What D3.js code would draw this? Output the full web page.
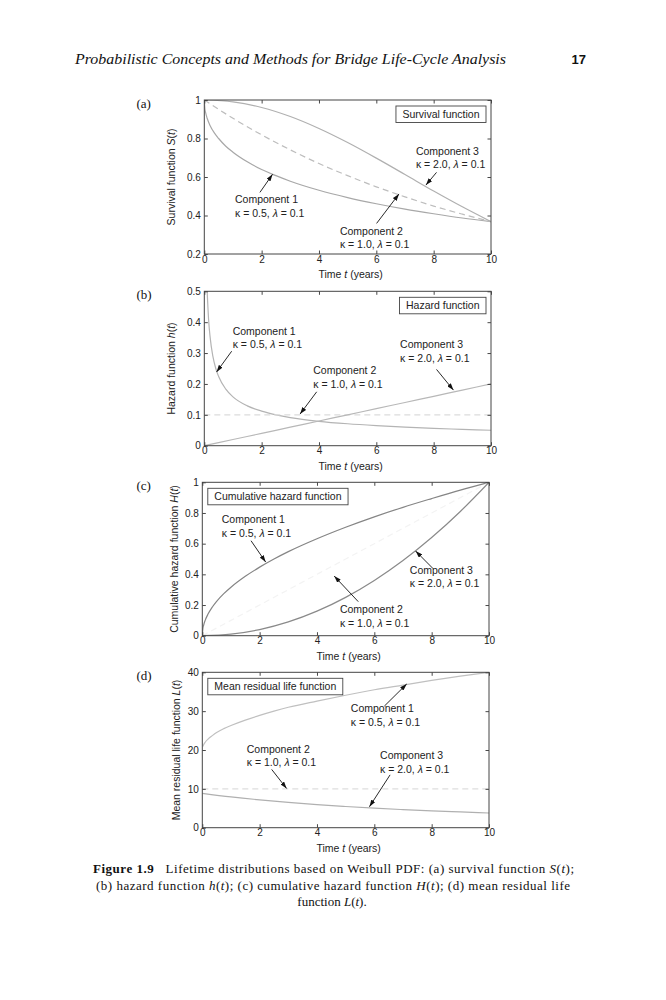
<!DOCTYPE html>
<html><head><meta charset="utf-8">
<script src="https://cdn.jsdelivr.net/npm/d3@7"></script>
<style>body{margin:0;background:#fff}svg{display:block}</style>
</head><body>
<svg id="c" width="666" height="1000"></svg>
<script>
// ---------- data ----------
const timeTicks = [0, 2, 4, 6, 8, 10];
const tFine   = [0, 0.02, 0.05, 0.1, 0.2, 0.35, 0.5, 0.75, 1, 1.5, 2, 2.5, 3, 4, 5, 6, 7, 8, 9, 10];
const tCoarse = [0, 1, 2, 3, 4, 5, 6, 7, 8, 9, 10];
const tHaz1   = [0.1, 0.15, 0.2, 0.3, 0.4, 0.5, 0.75, 1, 1.5, 2, 2.5, 3, 4, 5, 6, 7, 8, 9, 10];
const tLife1  = [0.02, 0.05, 0.1, 0.2, 0.35, 0.5, 0.75, 1, 1.5, 2, 2.5, 3, 4, 5, 6, 7, 8, 9, 10];

const survival1 = [1, 0.956, 0.932, 0.905, 0.868, 0.829, 0.800, 0.760, 0.729, 0.679, 0.639, 0.607, 0.578, 0.531, 0.493, 0.461, 0.433, 0.409, 0.387, 0.368];
const survival2 = [1, 0.905, 0.819, 0.741, 0.670, 0.607, 0.549, 0.497, 0.449, 0.407, 0.368];
const survival3 = [1, 0.990, 0.961, 0.914, 0.852, 0.779, 0.698, 0.613, 0.527, 0.445, 0.368];

const hazard1 = [0.5, 0.408, 0.354, 0.289, 0.25, 0.224, 0.183, 0.158, 0.129, 0.112, 0.1, 0.091, 0.079, 0.071, 0.065, 0.060, 0.056, 0.053, 0.05];
const hazard2 = [0.1, 0.1, 0.1, 0.1, 0.1, 0.1, 0.1, 0.1, 0.1, 0.1, 0.1];
const hazard3 = [0, 0.02, 0.04, 0.06, 0.08, 0.10, 0.12, 0.14, 0.16, 0.18, 0.20];

const cumHazard1 = [0, 0.045, 0.071, 0.1, 0.141, 0.187, 0.224, 0.274, 0.316, 0.387, 0.447, 0.5, 0.548, 0.632, 0.707, 0.775, 0.837, 0.894, 0.949, 1];
const cumHazard2 = [0, 0.1, 0.2, 0.3, 0.4, 0.5, 0.6, 0.7, 0.8, 0.9, 1.0];
const cumHazard3 = [0, 0.01, 0.04, 0.09, 0.16, 0.25, 0.36, 0.49, 0.64, 0.81, 1.0];

const residual1 = [20.9, 21.4, 22.0, 22.8, 23.7, 24.5, 25.5, 26.3, 27.7, 28.9, 30.0, 31.0, 32.6, 34.1, 35.5, 36.7, 37.9, 39.0, 40.0];
const residual2 = [10, 10, 10, 10, 10, 10, 10, 10, 10, 10, 10];
const residual3 = [8.86, 7.94, 7.17, 6.51, 5.94, 5.46, 5.03, 4.66, 4.33, 4.05, 3.79];

const yTicksA = [0.2, 0.4, 0.6, 0.8, 1];
const yTicksB = [0, 0.1, 0.2, 0.3, 0.4, 0.5];
const yTicksC = [0, 0.2, 0.4, 0.6, 0.8, 1];
const yTicksD = [0, 10, 20, 30, 40];

const componentNames = ["Component 1", "Component 2", "Component 3"];
const kappaValues = ["0.5", "1.0", "2.0"];
const lambdaValue = "0.1";
const panelTitles = ["Survival function", "Hazard function", "Cumulative hazard function", "Mean residual life function"];
const panelLetters = ["(a)", "(b)", "(c)", "(d)"];
const yLabelWords = [["Survival function ", "S"], ["Hazard function ", "h"], ["Cumulative hazard function ", "H"], ["Mean residual life function ", "L"]];

// ---------- layout ----------
const SANS = "'Liberation Sans', Arial, Helvetica, sans-serif";
const SERIF = "'Liberation Serif', 'Times New Roman', serif";
const svg = d3.select("#c");
const defs = svg.append("defs");
defs.append("marker").attr("id", "ah").attr("viewBox", "0 0 10 10")
  .attr("refX", 10).attr("refY", 5).attr("markerWidth", 7).attr("markerHeight", 4.6)
  .attr("markerUnits", "userSpaceOnUse").attr("orient", "auto").attr("preserveAspectRatio", "none")
  .append("path").attr("d", "M0,0L10,5L0,10Z").attr("fill", "#111");

const solidA = {stroke: "#a8a8a8"}, dashA = {stroke: "#bdbdbd", dash: "6,4"};
const panels = [
  {box: {l: 204.3, r: 491, t: 100, b: 254}, y: [0.2, 1], ticks: yTicksA, labX: 175, titleRight: true,
   series: [[tFine, survival1, solidA], [tCoarse, survival2, dashA], [tCoarse, survival3, {stroke: "#b0b0b0"}]],
   notes: [[0, 1.07, 0.463, 1.94, 0.52, 2.38, 0.614], [1, 4.73, 0.299, 6.01, 0.359, 6.79, 0.512], [2, 7.38, 0.714, 8.1, 0.624, 7.73, 0.558]]},
  {box: {l: 204.3, r: 491, t: 291.3, b: 445.7}, y: [0, 0.5], ticks: yTicksB, labX: 175, titleRight: true,
   series: [[tHaz1, hazard1, {stroke: "#b4b4b4"}], [tCoarse, hazard2, {stroke: "#dcdcdc", dash: "6,4"}], [tCoarse, hazard3, {stroke: "#b8b8b8"}]],
   notes: [[0, 0.99, 0.358, 0.955, 0.306, 0.43, 0.239], [1, 3.80, 0.231, 3.92, 0.1745, 3.34, 0.1025], [2, 6.83, 0.315, 8.1, 0.247, 8.69, 0.18]]},
  {box: {l: 202.3, r: 489, t: 482.3, b: 635.7}, y: [0, 1], ticks: yTicksC, labX: 178, titleRight: false,
   series: [[tFine, cumHazard1, {stroke: "#858585"}], [tCoarse, cumHazard2, {stroke: "#f3f3f3", dash: "6,4"}], [tCoarse, cumHazard3, {stroke: "#8a8a8a"}]],
   notes: [[0, 0.68, 0.733, 1.70, 0.619, 2.21, 0.48], [1, 4.80, 0.146, 5.44, 0.222, 4.60, 0.389], [2, 7.24, 0.402, 8.04, 0.439, 7.44, 0.552]]},
  {box: {l: 202.3, r: 489, t: 672.3, b: 827.7}, y: [0, 40], ticks: yTicksD, labX: 180, titleRight: false,
   series: [[tLife1, residual1, {stroke: "#c0c0c0"}], [tCoarse, residual2, {stroke: "#dedede", dash: "6,4"}], [tCoarse, residual3, {stroke: "#b0b0b0"}]],
   notes: [[0, 5.18, 29.7, 6.35, 31.3, 7.13, 36.99], [1, 1.55, 19.3, 2.42, 15.0, 2.94, 10.1], [2, 6.20, 17.6, 6.55, 13.6, 5.83, 5.4]]}
];

const fmt = d => String(+d.toFixed(2));

panels.forEach((p, i) => {
  const B = p.box;
  const x = d3.scaleLinear().domain([0, 10]).range([B.l, B.r]);
  const y = d3.scaleLinear().domain(p.y).range([B.b, B.t]);
  const g = svg.append("g");
  const cid = "clip" + i;
  defs.append("clipPath").attr("id", cid).append("rect")
    .attr("x", B.l).attr("y", B.t).attr("width", B.r - B.l).attr("height", B.b - B.t);

  // curves
  const line = d3.line().x(d => x(d[0])).y(d => y(d[1])).curve(d3.curveMonotoneX);
  p.series.forEach(([ts, vs, st]) => {
    g.append("path").attr("clip-path", `url(#${cid})`)
      .datum(ts.map((t, k) => [t, vs[k]]))
      .attr("d", line).attr("fill", "none").attr("stroke", st.stroke)
      .attr("stroke-width", 1.2).attr("stroke-dasharray", st.dash || null);
  });

  // axes with inside ticks on all sides
  const axStyle = sel => {
    sel.select(".domain").remove();
    sel.selectAll("line").attr("stroke", "#333").attr("stroke-width", 0.9);
    sel.selectAll("text").attr("font-family", SANS).attr("font-size", 10).attr("fill", "#222");
  };
  g.append("g").attr("transform", `translate(0,${B.b})`)
    .call(d3.axisBottom(x).tickValues(timeTicks).tickSizeInner(-3.5).tickSizeOuter(0).tickPadding(1.5).tickFormat(fmt)).call(axStyle);
  g.append("g").attr("transform", `translate(0,${B.t})`)
    .call(d3.axisTop(x).tickValues(timeTicks).tickSizeInner(-3.5).tickSizeOuter(0).tickFormat("")).call(axStyle);
  g.append("g").attr("transform", `translate(${B.l},0)`)
    .call(d3.axisLeft(y).tickValues(p.ticks).tickSizeInner(-3.5).tickSizeOuter(0).tickPadding(3.5).tickFormat(fmt)).call(axStyle);
  g.append("g").attr("transform", `translate(${B.r},0)`)
    .call(d3.axisRight(y).tickValues(p.ticks).tickSizeInner(-3.5).tickSizeOuter(0).tickFormat("")).call(axStyle);
  g.append("rect").attr("x", B.l).attr("y", B.t).attr("width", B.r - B.l).attr("height", B.b - B.t)
    .attr("fill", "none").attr("stroke", "#444").attr("stroke-width", 1);

  // x label
  const xl = g.append("text").attr("x", (B.l + B.r) / 2 + 3).attr("y", B.b + 24)
    .attr("text-anchor", "middle").attr("font-family", SANS).attr("font-size", 10.5).attr("fill", "#222");
  xl.append("tspan").text("Time ");
  xl.append("tspan").attr("font-style", "italic").text("t");
  xl.append("tspan").text(" (years)");

  // y label
  const yl = g.append("text").attr("transform", `translate(${p.labX},${(B.t + B.b) / 2}) rotate(-90)`)
    .attr("text-anchor", "middle").attr("font-family", SANS).attr("font-size", 10.5).attr("fill", "#222");
  yl.append("tspan").text(yLabelWords[i][0]);
  yl.append("tspan").attr("font-style", "italic").text(yLabelWords[i][1]);
  yl.append("tspan").text("(");
  yl.append("tspan").attr("font-style", "italic").text("t");
  yl.append("tspan").text(")");

  // panel letter
  g.append("text").attr("x", 136.5).attr("y", B.t + 7.5).attr("font-family", SERIF)
    .attr("font-size", 13).attr("fill", "#111").text(panelLetters[i]);

  // title box
  const boxRect = g.append("rect");
  const tt = g.append("text").attr("font-family", SANS).attr("font-size", 10.5).attr("fill", "#222")
    .text(panelTitles[i]);
  const w = tt.node().getComputedTextLength();
  const bw = w + 13, bh = 16.5;
  const bx = p.titleRight ? B.r - 5 - bw : B.l + 5.5;
  const by = B.t + 6;
  tt.attr("x", bx + 6.5).attr("y", by + 12);
  boxRect.attr("x", bx).attr("y", by).attr("width", bw).attr("height", bh)
    .attr("fill", "#fff").attr("stroke", "#444").attr("stroke-width", 0.9);

  // annotations
  p.notes.forEach(([c, tx, ty, ax1, ay1, ax2, ay2]) => {
    const t = g.append("text").attr("font-family", SANS).attr("font-size", 10.5).attr("fill", "#222");
    t.append("tspan").attr("x", x(tx)).attr("y", y(ty)).text(componentNames[c]);
    const l2 = t.append("tspan").attr("x", x(tx)).attr("dy", 13.3);
    l2.append("tspan").text("\u03BA = " + kappaValues[c] + ", ");
    l2.append("tspan").attr("font-style", "italic").text("\u03BB");
    l2.append("tspan").text(" = " + lambdaValue);
    g.append("line").attr("x1", x(ax1)).attr("y1", y(ay1)).attr("x2", x(ax2)).attr("y2", y(ay2))
      .attr("stroke", "#111").attr("stroke-width", 0.9).attr("marker-end", "url(#ah)");
  });
});

// page header
svg.append("text").attr("x", 75).attr("y", 64).attr("font-family", SERIF).attr("font-style", "italic")
  .attr("font-size", 15.5).attr("fill", "#111").attr("textLength", 431).attr("lengthAdjust", "spacingAndGlyphs")
  .text("Probabilistic Concepts and Methods for Bridge Life-Cycle Analysis");
svg.append("text").attr("x", 586).attr("y", 64).attr("text-anchor", "end").attr("font-family", SANS)
  .attr("font-weight", "bold").attr("font-size", 13).attr("fill", "#111").text("17");

// caption
const cap = (y, parts, opts) => {
  const t = svg.append("text").attr("y", y).attr("font-family", SERIF).attr("font-size", 13).attr("fill", "#111");
  if (opts.anchor) t.attr("text-anchor", opts.anchor);
  t.attr("x", opts.x);
  if (opts.len) t.attr("textLength", opts.len).attr("lengthAdjust", "spacing");
  parts.forEach(([s, st]) => {
    const ts = t.append("tspan").text(s);
    if (st === "b") ts.attr("font-weight", "bold");
    if (st === "i") ts.attr("font-style", "italic");
  });
};
cap(873, [["Figure 1.9", "b"], ["\u00A0\u00A0\u00A0Lifetime distributions based on Weibull PDF: (a) survival function "], ["S", "i"], ["("], ["t", "i"], [");"]], {x: 93, len: 481});
cap(890, [["(b) hazard function "], ["h", "i"], ["("], ["t", "i"], ["); (c) cumulative hazard function "], ["H", "i"], ["("], ["t", "i"], ["); (d) mean residual life"]], {x: 96, len: 474});
cap(906, [["function "], ["L", "i"], ["("], ["t", "i"], [")."]], {x: 332, anchor: "middle"});
</script>
</body></html>
